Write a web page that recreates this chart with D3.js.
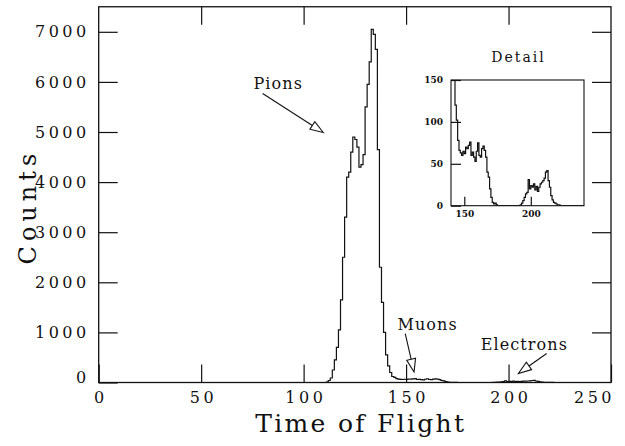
<!DOCTYPE html>
<html>
<head>
<meta charset="utf-8">
<script src="https://cdn.jsdelivr.net/npm/d3@7"></script>
<style>
  body { margin: 0; background: #fff; }
  svg text { font-family: "DejaVu Serif", serif; fill: #111; }
</style>
</head>
<body>
<svg id="chart" width="625" height="446"></svg>
<script>
// Time-of-flight spectrum, counts per 1-unit bin
const pionStart = 110;
const pionCounts = [0, 10, 40, 90, 250, 450, 700, 1050, 1650, 2500,
  3300, 4100, 4200, 4600, 4900, 4850, 4700, 4300, 4350, 4550,
  5500, 5950, 6400, 7050, 6950, 6650, 4650, 2300, 1600, 1000,
  550, 330, 200, 120, 102, 78];
const muonStart = 146;
const muonCounts = [66, 63, 60, 65, 62, 70, 68, 72, 76, 60,
  64, 58, 53, 65, 75, 60, 58, 68, 71, 66,
  58, 40, 34, 20, 10, 4, 2, 3, 1, 0,
  0, 0, 0, 0, 0, 0, 0, 0, 0, 0,
  0, 0, 0, 0, 0, 0];
const electronStart = 192;
const electronCounts = [1, 3, 6, 10, 14, 16, 31, 20, 24, 22,
  26, 19, 23, 17, 22, 26, 28, 30, 33, 40,
  42, 30, 22, 12, 7, 4, 3, 2, 1, 1, 0];

const xTicks = [0, 50, 100, 150, 200, 250];
const yTicks = [0, 1000, 2000, 3000, 4000, 5000, 6000, 7000];
const insetXTicks = [150, 200];
const insetYTicks = [0, 50, 100, 150];

const xTitle = "Time of Flight";
const yTitle = "Counts";
const insetTitle = "Detail";

// label text, label anchor (data units), arrow tail and tip (data units)
const annotations = [
  { text: "Pions", at: [75.5, 5860], from: [80, 5770], to: [109.6, 4990] },
  { text: "Muons", at: [145.8, 1045], from: [149.6, 975], to: [153.9, 210] },
  { text: "Electrons", at: [186.4, 645], from: [218.6, 580], to: [204.8, 180] }
];

// ---- assemble step points ----
const bins = [];
pionCounts.forEach((c, i) => bins.push([pionStart + i, c]));
muonCounts.forEach((c, i) => bins.push([muonStart + i, c]));
electronCounts.forEach((c, i) => bins.push([electronStart + i, c]));
const lastEdge = electronStart + electronCounts.length;
const steps = [[0, 0], ...bins, [lastEdge, 0], [250, 0]];

const svg = d3.select("#chart");
const ink = "#111";

// ---- main panel ----
const x = d3.scaleLinear().domain([0, 250]).range([98.7, 611]);
const y = d3.scaleLinear().domain([0, 7500]).range([382.5, 6.75]);

const tickFont = g => g.selectAll("text")
  .attr("font-size", 16)
  .style("letter-spacing", "3.5px")
  .attr("fill", ink);

const strip = g => {
  g.select(".domain").remove();
  g.selectAll("line").attr("stroke", ink).attr("stroke-width", 1.2);
};

svg.append("g")
  .attr("transform", `translate(0,${y(0)})`)
  .call(d3.axisBottom(x).tickValues(xTicks).tickSizeInner(-18).tickSizeOuter(0).tickPadding(9).tickFormat(d3.format("d")))
  .call(strip)
  .call(tickFont)
  .call(g => g.selectAll("text").attr("dx", "1.75px"))
  // the last label is pulled inside the frame's right edge
  .call(g => g.selectAll(".tick").filter(d => d === 250).select("text")
    .attr("text-anchor", "end").attr("dx", "3.5px"));

svg.append("g")
  .attr("transform", `translate(0,${y(7500)})`)
  .call(d3.axisTop(x).tickValues(xTicks.slice(1, -1)).tickSizeInner(-18).tickSizeOuter(0).tickFormat(""))
  .call(strip);

svg.append("g")
  .attr("transform", `translate(${x(0)},0)`)
  .call(d3.axisLeft(y).tickValues(yTicks).tickSizeInner(-19).tickSizeOuter(0).tickPadding(9).tickFormat(d3.format("d")))
  .call(strip)
  .call(tickFont)
  .call(g => g.selectAll(".tick").filter(d => d === 0).select("text").attr("y", -5));

svg.append("g")
  .attr("transform", `translate(${x(250)},0)`)
  .call(d3.axisRight(y).tickValues(yTicks.slice(1)).tickSizeInner(-19).tickSizeOuter(0).tickFormat(""))
  .call(strip);

// frame
svg.append("rect")
  .attr("x", x(0)).attr("y", y(7500))
  .attr("width", x(250) - x(0)).attr("height", y(0) - y(7500))
  .attr("fill", "none").attr("stroke", ink).attr("stroke-width", 1.3);

const stepLine = (sx, sy) => d3.line().x(d => sx(d[0])).y(d => sy(d[1])).curve(d3.curveStepAfter);

svg.append("path")
  .attr("d", stepLine(x, y)(steps))
  .attr("fill", "none").attr("stroke", ink).attr("stroke-width", 1.2);

// axis titles
svg.append("text")
  .attr("x", (x(0) + x(250)) / 2 + 6).attr("y", 432)
  .attr("text-anchor", "middle")
  .attr("font-size", 25)
  .style("letter-spacing", "2.3px")
  .text(xTitle);

svg.append("text")
  .attr("transform", `translate(36,${(y(0) + y(7500)) / 2 + 12}) rotate(-90)`)
  .attr("text-anchor", "middle")
  .attr("font-size", 24)
  .style("letter-spacing", "5px")
  .text(yTitle);

// annotations with open arrowheads
function arrow(p0, p1) {
  const dx = p1[0] - p0[0], dy = p1[1] - p0[1];
  const L = Math.hypot(dx, dy), ux = dx / L, uy = dy / L;
  const head = 13, half = 4.5;
  const bx = p1[0] - ux * head, by = p1[1] - uy * head;
  svg.append("line")
    .attr("x1", p0[0]).attr("y1", p0[1]).attr("x2", bx).attr("y2", by)
    .attr("stroke", ink).attr("stroke-width", 1.1);
  svg.append("polygon")
    .attr("points", [[p1[0], p1[1]], [bx - uy * half, by + ux * half], [bx + uy * half, by - ux * half]].map(p => p.join(",")).join(" "))
    .attr("fill", "#fff").attr("stroke", ink).attr("stroke-width", 1.1);
}

annotations.forEach(a => {
  svg.append("text")
    .attr("x", x(a.at[0])).attr("y", y(a.at[1]))
    .attr("font-size", 16)
    .style("letter-spacing", "1.1px")
    .text(a.text);
  arrow([x(a.from[0]), y(a.from[1])], [x(a.to[0]), y(a.to[1])]);
});

// ---- inset ----
const ix = d3.scaleLinear().domain([140, 240]).range([451, 584]);
const iy = d3.scaleLinear().domain([0, 150]).range([205.7, 80]);

svg.append("rect")
  .attr("x", ix(140)).attr("y", iy(150))
  .attr("width", ix(240) - ix(140)).attr("height", iy(0) - iy(150))
  .attr("fill", "#fff").attr("stroke", ink).attr("stroke-width", 1.1);

const insetFont = g => g.selectAll("text")
  .attr("font-family", "'Liberation Sans', Arial, sans-serif")
  .attr("font-weight", "bold")
  .attr("font-size", 9)
  .attr("fill", ink);

svg.append("g")
  .attr("transform", `translate(0,${iy(0)})`)
  .call(d3.axisBottom(ix).tickValues(insetXTicks).tickSizeInner(-9).tickSizeOuter(0).tickPadding(5))
  .call(strip)
  .call(insetFont);

svg.append("g")
  .attr("transform", `translate(${ix(140)},0)`)
  .call(d3.axisLeft(iy).tickValues(insetYTicks).tickSizeInner(-10).tickSizeOuter(0).tickPadding(8))
  .call(strip)
  .call(insetFont);

svg.append("clipPath").attr("id", "inset-clip")
  .append("rect")
  .attr("x", ix(140)).attr("y", iy(150))
  .attr("width", ix(240) - ix(140)).attr("height", iy(0) - iy(150));

svg.append("path")
  .attr("d", stepLine(ix, iy)(steps))
  .attr("clip-path", "url(#inset-clip)")
  .attr("fill", "none").attr("stroke", ink).attr("stroke-width", 1.2);

svg.append("text")
  .attr("x", (ix(140) + ix(240)) / 2 + 1).attr("y", 62)
  .attr("text-anchor", "middle")
  .attr("font-size", 14)
  .style("letter-spacing", "2px")
  .text(insetTitle);
</script>
</body>
</html>
